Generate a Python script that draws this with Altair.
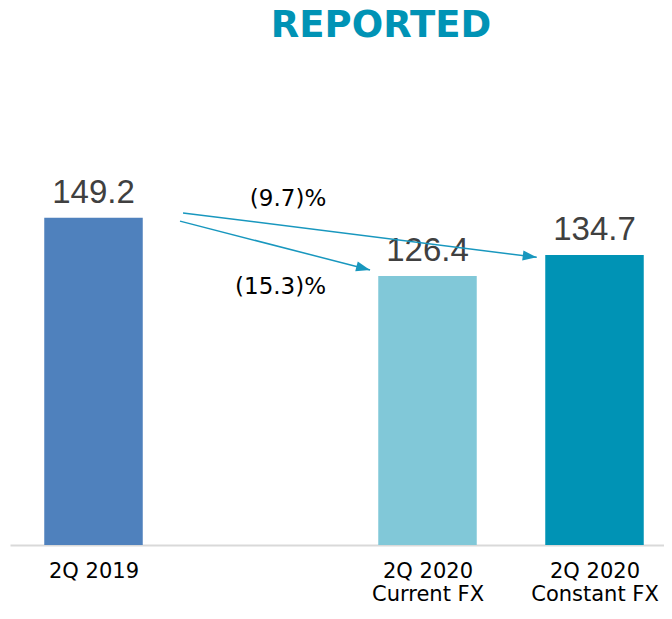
import math
import altair as alt
import pandas as pd

# ---- data ----
categories = ["2Q 2019", "2Q 2020 Current FX", "2Q 2020 Constant FX"]
category_lines = [["2Q 2019"], ["2Q 2020", "Current FX"], ["2Q 2020", "Constant FX"]]
slots = [0, 2, 3]                      # slot 1 is an empty gap in the layout
values = [149.2, 126.4, 134.7]
value_labels = ["149.2", "126.4", "134.7"]
bar_colors = ["#4F81BD", "#81C8D8", "#0093B5"]

# change arrows (from 2Q 2019 to the two 2Q 2020 bars), in slot / value units
arrow_x0 = [0.518, 0.536]
arrow_y0 = [147.9, 151.1]
arrow_x1 = [1.656, 2.654]
arrow_y1 = [128.8, 133.75]
pct_labels = ["(15.3)%", "(9.7)%"]
pct_x = [1.12, 1.165]
pct_y = [122.1, 156.5]

TITLE = "REPORTED"

# ---- layout / style ----
W, H = 656, 537
X_DOMAIN = [-0.5, 3.5]
X_RANGE = [2, 670]
Y_DOMAIN = [21.3, 231.2]
PX_X = (X_RANGE[1] - X_RANGE[0]) / (X_DOMAIN[1] - X_DOMAIN[0])
PX_Y = H / (Y_DOMAIN[1] - Y_DOMAIN[0])
ARROW = "#1897BE"

x_scale = alt.Scale(domain=X_DOMAIN, range=X_RANGE, nice=False, zero=False, padding=0)
y_scale = alt.Scale(domain=Y_DOMAIN, nice=False, zero=False, padding=0)

bars_df = pd.DataFrame({
    "category": categories,
    "slot": slots,
    "value": values,
    "label": value_labels,
    "color": bar_colors,
})
bars_df["base"] = Y_DOMAIN[0]

arrows_df = pd.DataFrame({"x0": arrow_x0, "y0": arrow_y0, "x1": arrow_x1, "y1": arrow_y1})
arrows_df["angle"] = [
    math.degrees(math.atan2((a - b) * PX_Y, (d - c) * PX_X)) % 360
    for a, b, c, d in zip(arrow_y0, arrow_y1, arrow_x0, arrow_x1)
]

pct_df = pd.DataFrame({"x": pct_x, "y": pct_y, "label": pct_labels})


def js_str(s):
    return "'" + s.replace("'", "\\'") + "'"


parts = []
for s, lines in zip(slots, category_lines):
    txt = js_str(lines[0]) if len(lines) == 1 else "[" + ", ".join(js_str(l) for l in lines) + "]"
    parts.append((s, txt))
label_expr = ""
for s, txt in parts[:-1]:
    label_expr += f"datum.value == {s} ? {txt} : "
label_expr += parts[-1][1]

x_axis = alt.Axis(
    values=slots, labelExpr=label_expr, title=None, grid=False, ticks=False, tickSize=0,
    domainColor="#D9D9D9", domainWidth=2, labelFont="DejaVu Sans", labelFontSize=21,
    labelColor="#000000", labelPadding=15, labelLineHeight=23, labelAngle=0,
    labelOverlap=False, labelFlush=False,
)

bars = alt.Chart(bars_df).mark_bar(size=98.5).encode(
    x=alt.X("slot:Q", scale=x_scale, axis=x_axis),
    y=alt.Y("value:Q", scale=y_scale, axis=None),
    y2="base:Q",
    color=alt.Color("color:N", scale=None),
)

value_text = alt.Chart(bars_df).mark_text(
    font="Liberation Sans", fontSize=33, color="#404040", baseline="alphabetic",
    align="center", dy=-15,
).encode(x="slot:Q", y="value:Q", text="label:N")

arrow_lines = alt.Chart(arrows_df).mark_rule(color=ARROW, strokeWidth=1.5).encode(
    x="x0:Q", y="y0:Q", x2="x1:Q", y2="y1:Q"
)

arrow_heads = alt.Chart(arrows_df).mark_point(
    shape="M0,0L-1,-0.36L-1,0.36Z", filled=True, size=784, color=ARROW, opacity=1,
    strokeWidth=0,
).encode(x="x1:Q", y="y1:Q", angle=alt.Angle("angle:Q", scale=None))

pct_text = alt.Chart(pct_df).mark_text(
    font="DejaVu Sans", fontSize=23, color="#000000", baseline="middle", align="center"
).encode(x="x:Q", y="y:Q", text="label:N")

title_text = alt.Chart(pd.DataFrame({"t": [TITLE]})).mark_text(
    font="DejaVu Sans", fontWeight="bold", fontSize=37, color="#0093B5",
    baseline="alphabetic", align="center",
).encode(text="t:N", x=alt.value(373), y=alt.value(29))

chart = alt.layer(bars, value_text, arrow_lines, arrow_heads, pct_text, title_text).properties(
    width=W, height=H,
    padding={"left": 0, "top": 0, "right": 0, "bottom": 62},
    autosize=alt.AutoSizeParams(type="none"),
).configure_view(stroke=None)

chart.save("out.html", embed_options={"renderer": "svg", "actions": False})
